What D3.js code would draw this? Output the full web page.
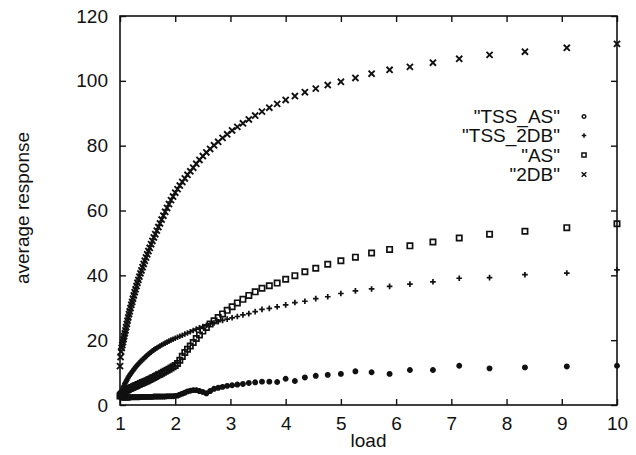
<!DOCTYPE html>
<html>
<head>
<meta charset="utf-8">
<script src="https://cdn.jsdelivr.net/npm/d3@7"></script>
<style>
    body { margin: 0; background: #fff; }
    svg { display: block; font-family: 'Liberation Sans', Arial, sans-serif; }
</style>
</head>
<body>
<svg id="chart" width="636" height="455"></svg>
<script>
// load values (x) shared by all four runs
const loads = [
    1.000, 1.010, 1.020, 1.031, 1.042, 1.053, 1.064, 1.075, 1.087, 1.099,
    1.111, 1.124, 1.136, 1.149, 1.163, 1.176, 1.190, 1.205, 1.220, 1.235,
    1.250, 1.266, 1.282, 1.299, 1.316, 1.333, 1.351, 1.370, 1.389, 1.408,
    1.429, 1.449, 1.471, 1.493, 1.515, 1.538, 1.563, 1.587, 1.613, 1.639,
    1.667, 1.695, 1.724, 1.754, 1.786, 1.818, 1.852, 1.887, 1.923, 1.961,
    2.000, 2.041, 2.083, 2.128, 2.174, 2.222, 2.273, 2.326, 2.381, 2.439,
    2.500, 2.564, 2.632, 2.703, 2.778, 2.857, 2.941, 3.030, 3.125, 3.226,
    3.333, 3.448, 3.571, 3.704, 3.846, 4.000, 4.167, 4.348, 4.545, 4.762,
    5.000, 5.263, 5.556, 5.882, 6.250, 6.667, 7.143, 7.692, 8.333, 9.091,
    10.000
]

const tssAS = [
    2.6, 2.5, 2.4, 2.4, 2.3, 2.3, 2.3, 2.3, 2.3, 2.3,
    2.3, 2.3, 2.3, 2.3, 2.3, 2.3, 2.4, 2.4, 2.4, 2.4,
    2.4, 2.4, 2.4, 2.4, 2.4, 2.4, 2.4, 2.5, 2.5, 2.5,
    2.5, 2.5, 2.5, 2.5, 2.5, 2.5, 2.5, 2.5, 2.6, 2.6,
    2.6, 2.6, 2.6, 2.6, 2.6, 2.6, 2.7, 2.7, 2.7, 2.7,
    2.8, 2.9, 3.2, 3.5, 3.8, 4.2, 4.4, 4.6, 4.6, 4.3,
    4.0, 3.6, 4.3, 5.0, 5.3, 5.6, 5.9, 6.1, 6.3, 6.5,
    6.8, 7.0, 7.2, 7.2, 7.1, 8.1, 7.4, 8.5, 9.0, 9.3,
    9.6, 10.4, 10.1, 9.6, 10.8, 10.8, 12.1, 11.3, 11.6, 11.9,
    12.1
]

const tss2DB = [
    2.8, 3.3, 3.8, 4.3, 4.7, 5.1, 5.6, 6.0, 6.5, 6.9,
    7.3, 7.7, 8.1, 8.5, 8.9, 9.2, 9.6, 9.9, 10.3, 10.6,
    11.0, 11.3, 11.7, 12.0, 12.4, 12.7, 13.0, 13.4, 13.7, 14.0,
    14.3, 14.7, 15.0, 15.3, 15.7, 16.0, 16.3, 16.7, 17.0, 17.3,
    17.6, 17.9, 18.2, 18.5, 18.8, 19.1, 19.4, 19.7, 20.0, 20.3,
    20.6, 20.9, 21.2, 21.5, 21.9, 22.2, 22.6, 23.0, 23.4, 23.8,
    24.2, 24.6, 25.0, 25.3, 25.7, 26.1, 26.5, 26.9, 27.3, 27.8,
    28.2, 28.8, 29.5, 29.8, 30.3, 30.9, 31.6, 32.0, 32.8, 33.4,
    34.4, 35.2, 35.8, 36.6, 37.3, 38.0, 39.1, 39.3, 40.2, 40.7,
    41.7
]

const asRun = [
    2.8, 3.0, 3.2, 3.4, 3.5, 3.7, 3.8, 4.0, 4.1, 4.3,
    4.4, 4.6, 4.7, 4.8, 5.0, 5.1, 5.2, 5.3, 5.4, 5.5,
    5.7, 5.8, 5.9, 6.0, 6.2, 6.3, 6.4, 6.6, 6.7, 6.9,
    7.0, 7.2, 7.3, 7.5, 7.7, 7.9, 8.1, 8.3, 8.5, 8.8,
    9.0, 9.3, 9.5, 9.8, 10.1, 10.4, 10.7, 11.0, 11.4, 11.8,
    12.2, 12.8, 13.8, 15.0, 16.2, 17.2, 18.2, 19.3, 20.5, 21.6,
    22.8, 23.9, 25.0, 26.0, 27.0, 28.1, 29.2, 30.3, 31.5, 32.6,
    33.8, 34.9, 36.0, 36.8, 37.6, 38.8, 39.9, 41.1, 42.2, 43.4,
    44.5, 45.6, 46.9, 48.0, 49.1, 50.3, 51.5, 52.7, 53.6, 54.7,
    55.9
]

const twoDB = [
    12.0, 14.8, 16.5, 17.6, 18.5, 19.4, 20.3, 21.2, 22.1, 23.0,
    24.0, 25.0, 26.0, 27.0, 28.0, 28.9, 29.9, 30.9, 31.8, 32.8,
    33.8, 34.8, 35.7, 36.7, 37.7, 38.6, 39.6, 40.6, 41.5, 42.5,
    43.5, 44.5, 45.5, 46.5, 47.5, 48.5, 49.6, 50.6, 51.7, 52.7,
    53.8, 54.9, 56.0, 57.2, 58.4, 59.6, 60.8, 62.0, 63.2, 64.3,
    65.5, 66.6, 67.7, 68.8, 69.9, 71.0, 72.1, 73.2, 74.4, 75.6,
    76.8, 77.9, 79.0, 80.1, 81.2, 82.4, 83.5, 84.7, 85.8, 86.9,
    88.1, 89.3, 90.5, 91.7, 92.9, 94.1, 95.3, 96.5, 97.6, 98.7,
    99.7, 100.9, 102.2, 103.4, 104.3, 105.6, 106.8, 108.0, 109.0, 110.2,
    111.4
]

const seriesNames = ['"TSS_AS"', '"TSS_2DB"', '"AS"', '"2DB"']
const xTicks = [1, 2, 3, 4, 5, 6, 7, 8, 9, 10]
const yTicks = [0, 20, 40, 60, 80, 100, 120]

const chart = {
    // plot box
    box: { left: 120, right: 617, top: 16, bottom: 405 },
    ink: '#111',

    show: function () {
        const svg = d3.select('#chart')
        this.x = d3.scaleLinear().domain([1, 10]).range([this.box.left, this.box.right])
        this.y = d3.scaleLinear().domain([0, 120]).range([this.box.bottom, this.box.top])
        // one marker shape per run, gnuplot style (legend keys are drawn smaller)
        this.marks = [
            { values: tssAS, type: d3.symbolCircle, size: 16, width: 1.4, fill: true, key: 10 },
            { values: tss2DB, type: d3.symbolPlus, size: 12, width: 1.7, fill: false, key: 8 },
            { values: asRun, type: d3.symbolSquare2, size: 36, width: 1.7, fill: false, key: 22 },
            { values: twoDB, type: d3.symbolTimes, size: 26, width: 1.9, fill: false, key: 16 }
        ]
        this.drawAxes(svg)
        this.drawPoints(svg)
        this.drawLegend(svg)
    },

    drawAxes: function (svg) {
        const b = this.box
        const g = svg.append('g').attr('font-size', 19).attr('fill', this.ink)

        // ticks point inward on all four sides
        g.append('g').attr('transform', `translate(0,${b.bottom})`)
            .call(d3.axisBottom(this.x).tickValues(xTicks).tickSize(-6).tickSizeOuter(0).tickPadding(12))
        g.append('g').attr('transform', `translate(0,${b.top})`)
            .call(d3.axisTop(this.x).tickValues(xTicks).tickSize(-6).tickSizeOuter(0).tickFormat(''))
        g.append('g').attr('transform', `translate(${b.left},0)`)
            .call(d3.axisLeft(this.y).tickValues(yTicks).tickSize(-6).tickSizeOuter(0).tickPadding(12))
        g.append('g').attr('transform', `translate(${b.right},0)`)
            .call(d3.axisRight(this.y).tickValues(yTicks).tickSize(-6).tickSizeOuter(0).tickFormat(''))

        g.selectAll('.domain').remove()
        g.selectAll('.tick line').attr('stroke', this.ink).attr('stroke-width', 1.4)
        g.selectAll('.tick text')
            .attr('fill', this.ink)
            .attr('font-size', 19)
            .attr('font-family', "'Liberation Sans', Arial, sans-serif")

        // frame
        svg.append('rect')
            .attr('x', b.left).attr('y', b.top)
            .attr('width', b.right - b.left).attr('height', b.bottom - b.top)
            .attr('fill', 'none').attr('stroke', this.ink).attr('stroke-width', 1.6)

        // axis titles
        svg.append('text')
            .attr('x', (b.left + b.right) / 2).attr('y', 447)
            .attr('text-anchor', 'middle').attr('font-size', 19).attr('fill', this.ink)
            .text('load')
        svg.append('text')
            .attr('transform', 'translate(29,208) rotate(-90)')
            .attr('text-anchor', 'middle').attr('font-size', 19).attr('fill', this.ink)
            .text('average response')
    },

    drawPoints: function (svg) {
        const _this = this
        this.marks.forEach((m) => {
            const shape = d3.symbol().type(m.type).size(m.size)
            svg.append('g')
                .selectAll('path')
                .data(loads.map((l, i) => [l, m.values[i]]))
                .join('path')
                .attr('transform', (d) => `translate(${_this.x(d[0])},${_this.y(d[1])})`)
                .attr('d', shape)
                .attr('fill', m.fill ? _this.ink : 'none')
                .attr('stroke', _this.ink)
                .attr('stroke-width', m.width)
        })
    },

    drawLegend: function (svg) {
        const rows = [116.5, 135.5, 155, 174.5]
        const g = svg.append('g')
        seriesNames.forEach((name, i) => {
            g.append('text')
                .attr('x', 560).attr('y', rows[i]).attr('dy', '0.36em')
                .attr('text-anchor', 'end').attr('font-size', 19).attr('fill', this.ink)
                .text(name)
            const m = this.marks[i]
            // legend keys are outlined only
            g.append('path')
                .attr('transform', `translate(584,${rows[i]})`)
                .attr('d', d3.symbol().type(m.type).size(m.key))
                .attr('fill', 'none').attr('stroke', this.ink).attr('stroke-width', 1.5)
        })
    }
}

chart.show()
</script>
</body>
</html>
